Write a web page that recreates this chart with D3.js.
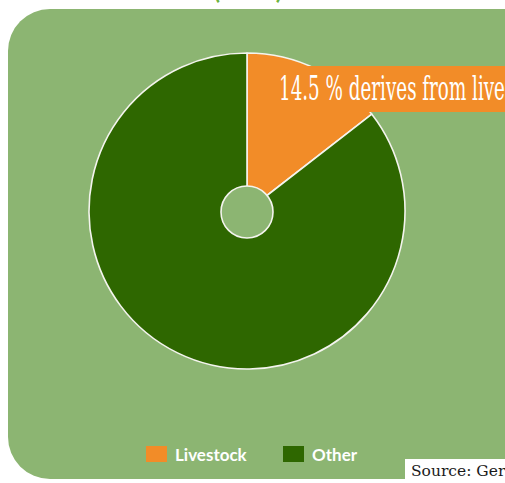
<!DOCTYPE html>
<html>
<head>
<meta charset="utf-8">
<script src="https://cdn.jsdelivr.net/npm/d3@7"></script>
<style>
  html, body { margin: 0; padding: 0; background: #ffffff; }
  svg { display: block; }
</style>
</head>
<body>
<svg id="chart" width="505" height="483"></svg>
<script>
// Share of greenhouse gas emissions by origin (percent)
const categories = ["Livestock", "Other"];
const shares = [14.5, 85.5];
const colors = ["#f28c28", "#2e6700"];
const titleText = "(2010)";
const calloutText = shares[0] + " % derives from livestock";
const sourceText = "Source: Germanwatch";

const W = 505, H = 483;
const svg = d3.select("#chart");

// Title line (sits above the visible area)
svg.append("text")
  .attr("x", 248).attr("y", -1)
  .attr("text-anchor", "middle")
  .attr("font-family", "Lato, sans-serif")
  .attr("font-weight", "bold")
  .attr("font-size", 24)
  .attr("fill", "#6db33f")
  .text(titleText);

// Panel
svg.append("rect")
  .attr("x", 8).attr("y", 9)
  .attr("width", 540).attr("height", 470)
  .attr("rx", 42).attr("ry", 42)
  .attr("fill", "#8cb572");

// Pie
const cx = 247, cy = 211, R = 158, r0 = 26;
const pie = d3.pie().sort(null).value(d => d.value);
const arcs = pie(categories.map((c, i) => ({ name: c, value: shares[i], color: colors[i] })));
const arc = d3.arc().innerRadius(0).outerRadius(R);

const g = svg.append("g").attr("transform", `translate(${cx},${cy})`);
g.selectAll("path.slice")
  .data(arcs)
  .join("path")
  .attr("class", "slice")
  .attr("d", arc)
  .attr("fill", d => d.data.color)
  .attr("stroke", "#f4f4ee")
  .attr("stroke-width", 1.6)
  .attr("stroke-linejoin", "round");

// Callout banner
const banner = svg.append("g");
banner.append("rect")
  .attr("x", 249).attr("y", 66)
  .attr("width", 280).attr("height", 46)
  .attr("fill", colors[0]);
const label = banner.append("text")
  .attr("x", 0).attr("y", 0)
  .attr("font-family", "'DejaVu Serif Condensed', 'DejaVu Serif', serif")
  .attr("font-size", 34)
  .attr("fill", "#ffffff")
  .text(calloutText);
// compress the lettering horizontally to a condensed face
const prefixW = label.node().getSubStringLength(0, 24);
const sx = 226 / prefixW;
label.attr("transform", `translate(279,100) scale(${sx},1)`);

// Center hole
g.append("circle")
  .attr("cy", 1)
  .attr("r", r0)
  .attr("fill", "#8cb572")
  .attr("stroke", "#f4f4ee")
  .attr("stroke-width", 1.6);

// Legend
const legendX = [146, 283];
const legend = svg.append("g");
categories.forEach((c, i) => {
  legend.append("rect")
    .attr("x", legendX[i]).attr("y", 446)
    .attr("width", 21).attr("height", 16)
    .attr("fill", colors[i]);
  legend.append("text")
    .attr("x", legendX[i] + 29).attr("y", 461)
    .attr("font-family", "Lato, 'Open Sans', sans-serif")
    .attr("font-weight", "bold")
    .attr("font-size", 17)
    .attr("fill", "#ffffff")
    .text(c);
});

// Source box
svg.append("rect")
  .attr("x", 405).attr("y", 459)
  .attr("width", 120).attr("height", 30)
  .attr("fill", "#ffffff");
svg.append("text")
  .attr("x", 411).attr("y", 476)
  .attr("font-family", "'DejaVu Serif', serif")
  .attr("font-size", 15.5)
  .attr("fill", "#1a1a1a")
  .text(sourceText);
</script>
</body>
</html>
